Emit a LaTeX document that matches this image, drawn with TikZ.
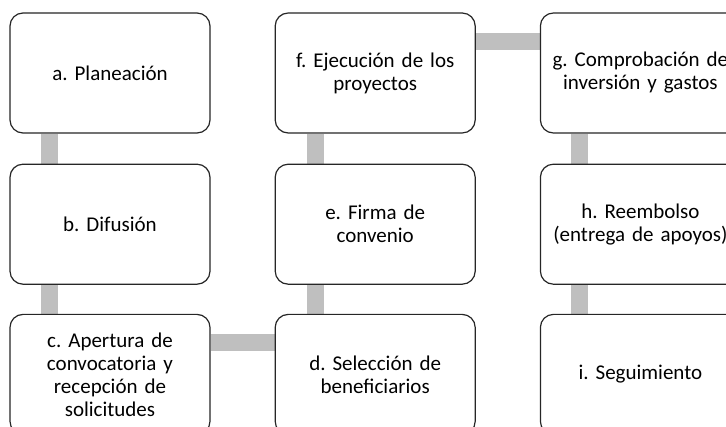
\documentclass[tikz,border=0pt]{standalone}
\usepackage{fontspec}
\setmainfont{Carlito}
\usetikzlibrary{positioning,backgrounds}
\frenchspacing
\begin{document}
\begin{tikzpicture}[x=1pt,y=1pt, line join=round,
        box/.style={draw=black!85, line width=1.2pt, rounded corners=13pt, fill=white,
            minimum width=200pt, minimum height=120pt, text width=194pt, align=center,
            inner sep=0pt, font=\fontsize{21}{23}\selectfont},
        bar/.style={draw=gray!50, line width=17pt}]
        \clip (0,0) rectangle (726,-427);
        % left column
        \node[box] (a) at (110,-73) {a. Planeación};
        \node[box, below=30pt of a] (b) {b. Difusión};
        \node[box, below=29pt of b] (c) {c. Apertura de\\convocatoria y\\recepción de\\solicitudes};
        % middle column
        \node[box, right=64pt of c] (d) {d. Selección de\\beneficiarios};
        \node[box, above=29pt of d] (e) {e. Firma de\\convenio};
        \node[box, above=30pt of e] (f) {f. Ejecución de los\\proyectos};
        % right column
        \node[box, right=64pt of f] (g) {g. Comprobación de\\inversión y gastos};
        \node[box, below=30pt of g] (h) {h. Reembolso\\(entrega de apoyos)};
        \node[box, below=29pt of h] (i) {i. Seguimiento};
        \begin{pgfonlayer}{background}
            \draw[bar] ([xshift=40pt]a.south west) -- ([xshift=40pt]b.north west);
            \draw[bar] ([xshift=40pt]b.south west) -- ([xshift=40pt]c.north west);
            \draw[bar] ([yshift=-29pt]c.north east) -- ([yshift=-29pt]d.north west);
            \draw[bar] ([xshift=41pt]d.north west) -- ([xshift=41pt]e.south west);
            \draw[bar] ([xshift=41pt]e.north west) -- ([xshift=41pt]f.south west);
            \draw[bar] ([yshift=-29pt]f.north east) -- ([yshift=-29pt]g.north west);
            \draw[bar] ([xshift=40pt]g.south west) -- ([xshift=40pt]h.north west);
            \draw[bar] ([xshift=40pt]h.south west) -- ([xshift=40pt]i.north west);
        \end{pgfonlayer}
\end{tikzpicture}
\end{document}
